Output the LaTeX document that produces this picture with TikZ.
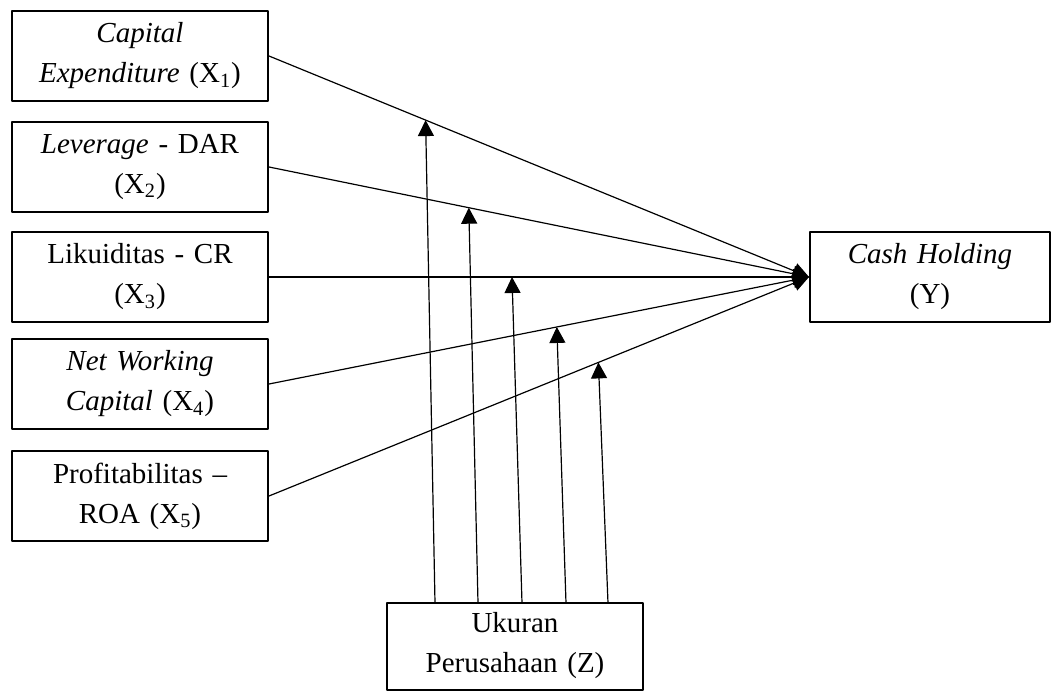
\documentclass[tikz,border=0pt]{standalone}
\usepackage{fontspec}
\setmainfont{Liberation Serif}
\usetikzlibrary{arrows.meta}
\tikzset{
  varbox/.style={draw, line width=1pt, minimum width=128pt, minimum height=45pt,
    inner sep=0pt, align=center, text width=124pt,
    font=\fontsize{14.5}{20}\selectfont},
  pathline/.style={line width=0.6pt, -{Triangle[length=8pt,width=8pt]}}
}
\begin{document}
\begin{tikzpicture}[x=0.5pt, y=-0.5pt, line join=round]
\useasboundingbox (0,0) rectangle (1055,700);
% variabel independen
\node[varbox] (x1) at (140,56) {\textit{Capital}\\\textit{Expenditure} (X\textsubscript{1})};
\node[varbox] (x2) at (140,167) {\textit{Leverage} - DAR\\(X\textsubscript{2})};
\node[varbox] (x3) at (140,277) {Likuiditas - CR\\(X\textsubscript{3})};
\node[varbox] (x4) at (140,384) {\textit{Net Working}\\\textit{Capital} (X\textsubscript{4})};
\node[varbox] (x5) at (140,496) {Profitabilitas --\\ROA (X\textsubscript{5})};
% variabel dependen dan moderasi
\node[varbox, minimum width=120pt, text width=116pt] (y) at (930,277) {\textit{Cash Holding}\\(Y)};
\node[varbox, minimum height=43.5pt] (z) at (515,646) {Ukuran\\Perusahaan (Z)};
% titik moderasi pada garis
\foreach \i/\p in {1/0.29, 2/0.37, 3/0.45, 4/0.533, 5/0.61}
  \path (x\i.east) -- (y.west) coordinate[pos=\p] (m\i);
\foreach \i in {1,...,5}
  \draw[pathline] (x\i.east) -- (y.west);
\coordinate (z1) at (435,603);
\coordinate (z2) at (478,603);
\coordinate (z3) at (522,603);
\coordinate (z4) at (566,603);
\coordinate (z5) at (608,603);
\foreach \i in {1,...,5}
  \draw[pathline] (z\i) -- (m\i);
\end{tikzpicture}
\end{document}
